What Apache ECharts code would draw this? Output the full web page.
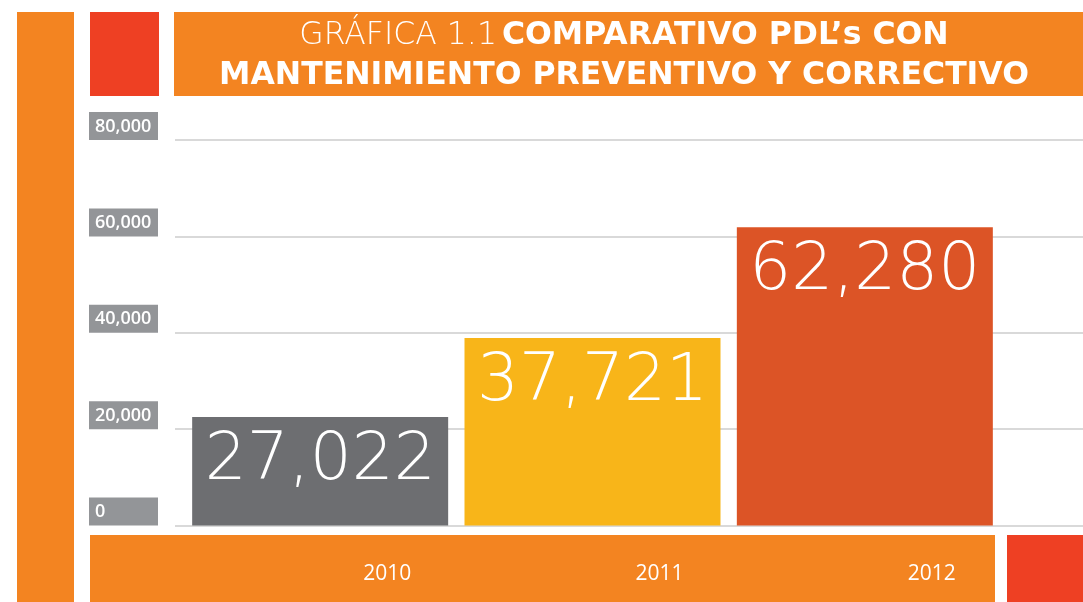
<!DOCTYPE html>
<html>
<head>
<meta charset="utf-8">
<script src="https://cdn.jsdelivr.net/npm/echarts@6/dist/echarts.min.js"></script>
<style>
  html, body { margin: 0; padding: 0; background: #fff; }
  #main { width: 1083px; height: 602px; }
</style>
</head>
<body>
<div id="main"></div>
<script>
// datos
var years = ['2010', '2011', '2012'];
var barHeights = [22500, 38900, 61900];          // altura de cada barra como se ve
var printedValues = [27022, 37721, 62280];       // cifra escrita dentro de la barra
var barColors = ['#6d6e71', '#f8b519', '#dc5426'];
var yTicks = [0, 20000, 40000, 60000, 80000];

var chart = echarts.init(document.getElementById('main'));

chart.setOption({
  backgroundColor: '#ffffff',
  animation: false,

  // titulo en la franja naranja
  title: {
    left: 624,
    top: 16,
    textAlign: 'center',
    padding: 0,
    text: '{l|GRÁFICA 1.1} {b|COMPARATIVO PDL’s CON}\n{b|MANTENIMIENTO PREVENTIVO Y CORRECTIVO}',
    textStyle: {
      rich: {
        l: { color: '#fff', fontFamily: 'DejaVu Sans', fontWeight: 200, fontSize: 31.5, lineHeight: 40 },
        b: { color: '#fff', fontFamily: 'DejaVu Sans', fontWeight: 'bold', fontSize: 31.5, lineHeight: 40 }
      }
    }
  },

  // bloques decorativos
  graphic: [
    { type: 'rect', z: -10, shape: { x: 17, y: 12, width: 57, height: 590 }, style: { fill: '#f38421' } },
    { type: 'rect', z: -10, shape: { x: 90, y: 12, width: 69, height: 84 }, style: { fill: '#ee4023' } },
    { type: 'rect', z: -10, shape: { x: 174, y: 12, width: 909, height: 84 }, style: { fill: '#f38421' } },
    { type: 'rect', z: -10, shape: { x: 90, y: 535, width: 905, height: 67 }, style: { fill: '#f38421' } },
    { type: 'rect', z: -10, shape: { x: 1007, y: 535, width: 76, height: 67 }, style: { fill: '#ee4023' } }
  ],

  grid: [
    { left: 175, right: 0, top: 140, bottom: 76.5 },
    { left: 184, right: 82, top: 140, bottom: 76.5 }
  ],

  xAxis: [
    { gridIndex: 0, type: 'category', data: [''], show: false },
    {
      gridIndex: 1, type: 'category', data: years, z: 10,
      axisLine: { show: false }, axisTick: { show: false },
      axisLabel: {
        color: '#fff', fontFamily: 'Open Sans', fontSize: 21, lineHeight: 21,
        margin: 38, padding: [0, 0, 0, 134]
      }
    }
  ],

  yAxis: [
    {
      gridIndex: 0, type: 'value', min: 0, max: 80000, interval: 20000,
      axisLine: { show: false }, axisTick: { show: false },
      splitLine: { lineStyle: { color: '#d9d9d9', width: 2 } },
      axisLabel: {
        align: 'left', margin: 86, verticalAlign: 'bottom',
        color: '#fff', fontFamily: 'Open Sans', fontWeight: 600, fontSize: 18, lineHeight: 19,
        backgroundColor: '#939598', width: 63, padding: [5, 0, 4, 6],
        formatter: function (v) { return v.toLocaleString('en-US'); }
      }
    },
    { gridIndex: 1, type: 'value', min: 0, max: 80000, interval: 20000, show: false }
  ],

  series: [
    {
      type: 'bar',
      xAxisIndex: 1,
      yAxisIndex: 1,
      barWidth: 256,
      data: barHeights.map(function (v, i) {
        return { value: v, itemStyle: { color: barColors[i] } };
      }),
      label: {
        show: true,
        position: 'insideTop',
        distance: 12,
        color: '#fff',
        fontFamily: 'DejaVu Sans',
        fontWeight: 200,
        fontSize: 66,
        lineHeight: 66,
        formatter: function (p) { return printedValues[p.dataIndex].toLocaleString('en-US'); }
      }
    }
  ]
});
</script>
</body>
</html>
